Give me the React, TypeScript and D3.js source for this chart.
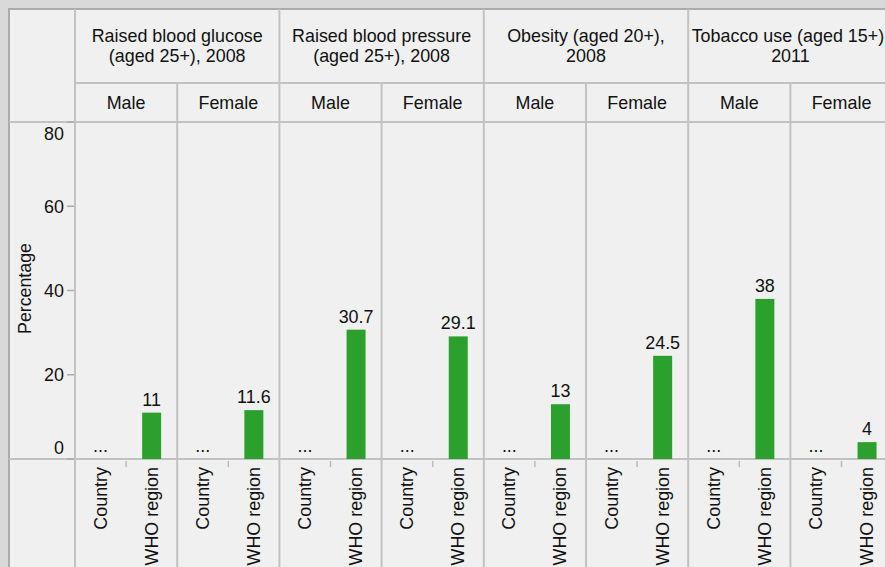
import React from 'react';
import * as d3 from 'd3';

// indicator groups, each split over two header lines
const groupLines: string[][] = [
  ['Raised blood glucose', '(aged 25+), 2008'],
  ['Raised blood pressure', '(aged 25+), 2008'],
  ['Obesity (aged 20+),', '2008'],
  ['Tobacco use (aged 15+),', '2011'],
];
const sexes = ['Male', 'Female'];
const categories = ['Country', 'WHO region'];
const yTicks = [0, 20, 40, 60, 80];

// one value per panel (group x sex); country values are not available
const countryValues: (number | null)[] = [null, null, null, null, null, null, null, null];
const whoValues = [11, 11.6, 30.7, 29.1, 13, 24.5, 38, 4];

const W = 885;
const H = 567;
const FONT = '"Liberation Sans", Arial, sans-serif';
const LINE = '#c2c2c2';
const GREEN = '#2ca02c';

const App: React.FC = () => {
  const left = 75;
  const top = 122;
  const bottom = 459;
  const panels = d3.range(groupLines.length * sexes.length);

  const xPanel = d3.scaleBand<number>()
    .domain(panels)
    .range([left, left + 8 * 102.2])
    .padding(0);
  const xCat = d3.scaleBand<string>()
    .domain(categories)
    .range([0, xPanel.bandwidth()])
    .padding(0);
  const y = d3.scaleLinear().domain([0, 80]).range([bottom, top]);
  const barW = 19;

  const textStyle = { fontFamily: FONT, fontSize: 17.9, fill: '#111' };

  return (
    <svg width={W} height={H} style={{ position: 'fixed', left: 0, top: 0 }}>
      <rect x={0} y={0} width={W} height={H} fill="#d9d9d9" />
      <rect x={9} y={9} width={W + 20} height={H + 20} fill="#f0f0f0" stroke="#ababab" strokeWidth={2} />

      {/* grid lines */}
      <line x1={left} x2={left} y1={9} y2={H} stroke={LINE} strokeWidth={2} />
      <line x1={left} x2={W} y1={83} y2={83} stroke={LINE} strokeWidth={2} />
      <line x1={9} x2={W} y1={top} y2={top} stroke={LINE} strokeWidth={2} />
      <line x1={9} x2={W} y1={bottom} y2={bottom} stroke={LINE} strokeWidth={2} />
      {panels.slice(1).map(p => (
        <line
          key={`v${p}`}
          x1={xPanel(p)!}
          x2={xPanel(p)!}
          y1={p % 2 === 0 ? 9 : 83}
          y2={H}
          stroke={LINE}
          strokeWidth={2}
        />
      ))}

      {/* group headers */}
      {groupLines.map((lines, g) => {
        const cx = xPanel(g * 2)! + xPanel.bandwidth();
        return (
          <text key={`g${g}`} textAnchor="middle" style={textStyle}>
            {lines.map((l, i) => (
              <tspan key={i} x={cx} y={42 + i * 20}>{l}</tspan>
            ))}
          </text>
        );
      })}

      {/* sex headers */}
      {panels.map(p => (
        <text
          key={`s${p}`}
          x={xPanel(p)! + xPanel.bandwidth() / 2}
          y={109}
          textAnchor="middle"
          style={textStyle}
        >
          {sexes[p % 2]}
        </text>
      ))}

      {/* y axis */}
      {yTicks.map(t => (
        <g key={`t${t}`}>
          <line x1={67} x2={74} y1={y(t)} y2={y(t)} stroke="#aaaaaa" strokeWidth={1.5} />
          <text
            x={64}
            y={Math.min(Math.max(y(t), top + 12), bottom - 11)}
            dy="0.35em"
            textAnchor="end"
            style={textStyle}
          >
            {t}
          </text>
        </g>
      ))}
      <text
        transform={`translate(31,${(top + bottom) / 2 - 2}) rotate(-90)`}
        textAnchor="middle"
        style={{ ...textStyle, fontSize: 17.8 }}
      >
        Percentage
      </text>

      {/* bars and labels */}
      {panels.map(p => {
        const x0 = xPanel(p)!;
        const cC = x0 + xCat('Country')! + xCat.bandwidth() / 2;
        const cW = x0 + xCat('WHO region')! + xCat.bandwidth() / 2;
        const cv = countryValues[p];
        const wv = whoValues[p];
        return (
          <g key={`p${p}`}>
            {cv !== null && (
              <rect x={cC - barW / 2} y={y(cv)} width={barW} height={y(0) - y(cv)} fill={GREEN} />
            )}
            <text x={cC} y={y(cv ?? 0) - 7} textAnchor="middle" style={textStyle}>
              {cv === null ? '...' : cv}
            </text>
            <rect x={cW - barW / 2} y={y(wv)} width={barW} height={y(0) - y(wv)} fill={GREEN} />
            <text x={cW} y={y(wv) - 7} textAnchor="middle" style={textStyle}>
              {wv}
            </text>
            <line
              x1={x0 + xPanel.bandwidth() / 2}
              x2={x0 + xPanel.bandwidth() / 2}
              y1={461}
              y2={467}
              stroke="#bbbbbb"
              strokeWidth={1.5}
            />
            {categories.map(c => (
              <text
                key={c}
                transform={`translate(${x0 + xCat(c)! + xCat.bandwidth() / 2 + 6},467) rotate(-90)`}
                textAnchor="end"
                style={textStyle}
              >
                {c}
              </text>
            ))}
          </g>
        );
      })}
    </svg>
  );
};

export default App;
